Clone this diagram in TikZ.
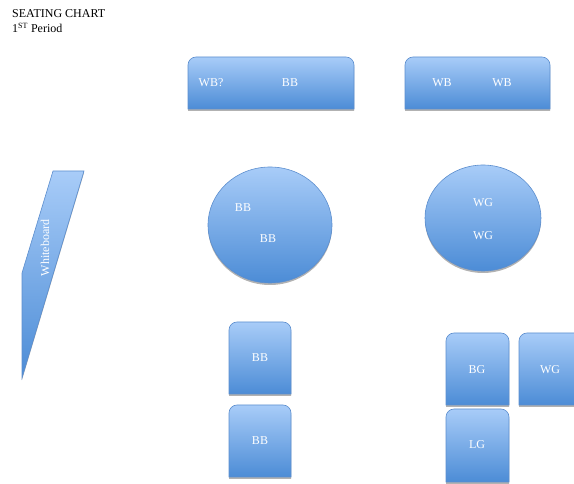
\documentclass[tikz,border=0pt]{standalone}
\usepackage{fontspec}
\setmainfont{Liberation Serif}
\usepackage{tikz}
\usetikzlibrary{shadows}
\definecolor{seattop}{RGB}{168,204,248}
\definecolor{seatbot}{RGB}{76,140,214}
\definecolor{seatline}{RGB}{92,142,206}
% box with rounded top corners: x1,y1 (bottom left), x2,y2 (top right)
\newcommand{\deskbox}[4]{%
  \shade[desk] (#1,#2) -- (#1,#4-8) arc[start angle=180,end angle=90,radius=8]
    -- (#3-8,#4) arc[start angle=90,end angle=0,radius=8] -- (#3,#2) -- cycle;}

\begin{document}
\begin{tikzpicture}[x=1pt,y=1pt,
  desk/.style={top color=seattop,bottom color=seatbot,draw=seatline,line width=0.6pt,
    drop shadow={shadow xshift=0pt,shadow yshift=-2pt,fill=black,opacity=0.3}},
  seat/.style={text=white,font=\fontsize{12}{14}\selectfont,inner sep=0pt},
  title/.style={anchor=base west,inner sep=0pt,font=\fontsize{12}{14}\selectfont}]
  \useasboundingbox (0,0) rectangle (574,484);
  \clip (0,0) rectangle (574,484);
  \node[title] (head) at (12,466) {SEATING CHART};
  \node[title] (per) at (12,451) {1\textsuperscript{ST} Period};
  \shade[desk] (53,313)--(84,313)--(22,106)--(22,211)--cycle;
  \node[seat,rotate=90] (wboard) at (45,236) {Whiteboard};
  \deskbox{188}{375}{354}{427}
  \node[seat] (wbq) at (211,401) {WB?};
  \node[seat] (bbt) at (290,401) {BB};
  \deskbox{405}{375}{550}{427}
  \node[seat] (wba) at (442,401) {WB};
  \node[seat] (wbb) at (502,401) {WB};
  \shade[desk] (270,259) ellipse[x radius=62,y radius=58];
  \node[seat] (bbc) at (243,276) {BB};
  \node[seat] (bbd) at (268,245) {BB};
  \shade[desk] (483,266) ellipse[x radius=58,y radius=53];
  \node[seat] (wgc) at (483,281) {WG};
  \node[seat] (wgd) at (483,248) {WG};
  \deskbox{229}{90}{291}{162}
  \node[seat] (bbe) at (260,126) {BB};
  \deskbox{229}{7}{291}{79}
  \node[seat] (bbf) at (260,43) {BB};
  \deskbox{446}{79}{509}{151}
  \node[seat] (bg) at (477,114) {BG};
  \deskbox{519}{79}{582}{151}
  \node[seat] (wg) at (550,114) {WG};
  \deskbox{446}{2}{509}{75}
  \node[seat] (lg) at (477,39) {LG};
\end{tikzpicture}
\end{document}
